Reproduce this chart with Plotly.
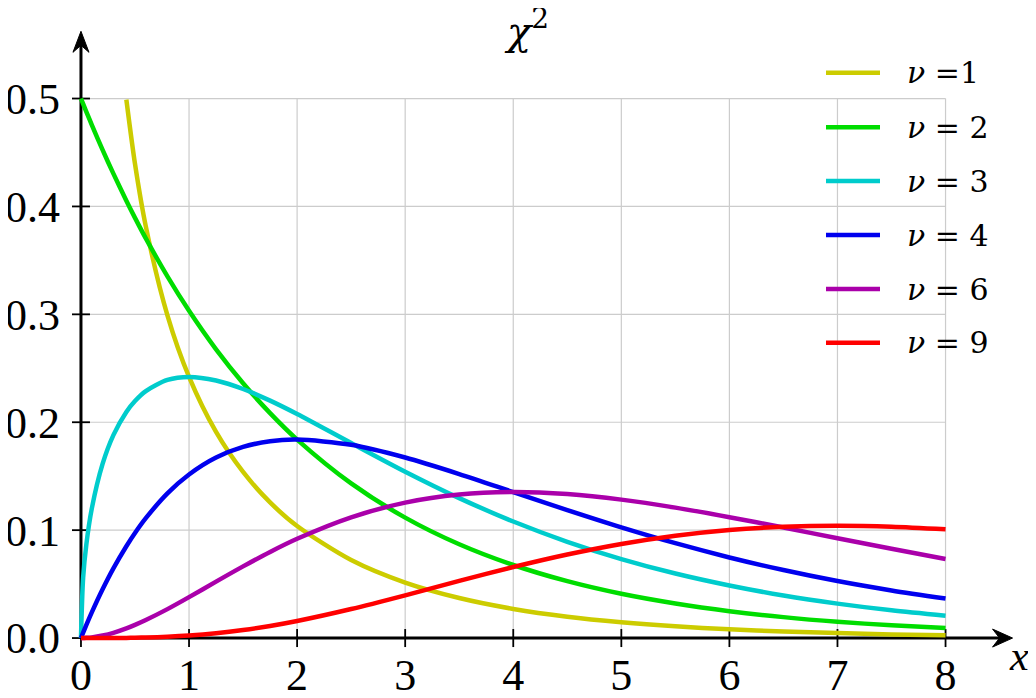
import plotly.graph_objects as go

# ---------------- data ----------------
x_vals = [0, 0.02, 0.05, 0.1, 0.2, 0.3, 0.42, 0.5, 0.6, 0.8, 1.0, 1.25, 1.5, 1.75,
          2.0, 2.5, 3.0, 3.5, 4.0, 4.5, 5.0, 5.5, 6.0, 6.5, 7.0, 7.5, 8.0]

nu1 = [None, None, None, None, None, None,
       0.499, 0.4394, 0.3815, 0.2990, 0.2420, 0.1910, 0.1539, 0.1257, 0.1038, 0.0723,
       0.0514, 0.0371, 0.0270, 0.0198, 0.0147, 0.0109, 0.0081, 0.0061, 0.0046, 0.0034, 0.0026]
nu2 = [0.5, 0.4950, 0.4877, 0.4756, 0.4524, 0.4304, 0.4053, 0.3894, 0.3704, 0.3352,
       0.3033, 0.2676, 0.2362, 0.2084, 0.1839, 0.1433, 0.1116, 0.0869, 0.0677, 0.0527,
       0.0410, 0.0320, 0.0249, 0.0194, 0.0151, 0.0118, 0.0092]
nu3 = [0, 0.0559, 0.0870, 0.1200, 0.1614, 0.1881, 0.2096, 0.2197, 0.2289, 0.2392,
       0.2420, 0.2387, 0.2308, 0.2200, 0.2076, 0.1807, 0.1542, 0.1297, 0.1080, 0.0892,
       0.0732, 0.0598, 0.0487, 0.0394, 0.0319, 0.0257, 0.0207]
nu4 = [0, 0.0050, 0.0122, 0.0238, 0.0452, 0.0646, 0.0851, 0.0974, 0.1111, 0.1341,
       0.1516, 0.1673, 0.1771, 0.1824, 0.1839, 0.1791, 0.1673, 0.1520, 0.1353, 0.1186,
       0.1026, 0.0879, 0.0747, 0.0630, 0.0528, 0.0441, 0.0366]
nu6 = [0, 0.0000, 0.0002, 0.0006, 0.0023, 0.0048, 0.0089, 0.0122, 0.0167, 0.0268,
       0.0379, 0.0523, 0.0664, 0.0798, 0.0920, 0.1119, 0.1255, 0.1330, 0.1353, 0.1334,
       0.1283, 0.1209, 0.1120, 0.1024, 0.0925, 0.0827, 0.0733]
nu9 = [0, 0, 0, 0, 0.0000, 0.0000, 0.0001, 0.0003, 0.0005, 0.0012,
       0.0023, 0.0044, 0.0074, 0.0112, 0.0158, 0.0269, 0.0396, 0.0530, 0.0658, 0.0774,
       0.0872, 0.0948, 0.1001, 0.1031, 0.1041, 0.1032, 0.1008]

series = [nu1, nu2, nu3, nu4, nu6, nu9]
legend_labels = ["ν =1", "ν = 2", "ν = 3", "ν = 4", "ν = 6", "ν = 9"]
colors = ["#cccc00", "#00dd00", "#00cccc", "#0000ee", "#aa00aa", "#ff0000"]

x_ticks = [0, 1, 2, 3, 4, 5, 6, 7, 8]
x_ticklabels = ["0", "1", "2", "3", "4", "5", "6", "7", "8"]
y_ticks = [0.0, 0.1, 0.2, 0.3, 0.4, 0.5]
y_ticklabels = ["0.0", "0.1", "0.2", "0.3", "0.4", "0.5"]

title_text = "<i>χ</i><sup>2</sup>"
x_label = "<i>x</i>"

# ---------------- layout geometry ----------------
# the page body has an 8px margin, so the figure is made 8px smaller and
# every window position is shifted by that offset
OFF = 8
W_FIG, H_FIG = 1036 - OFF, 698 - OFF
ML, MT = 60, 15
PW, PH = 964, 628
MR = W_FIG - ML - PW
MB = H_FIG - MT - PH
X_RANGE = [-0.12, 8.8]
Y_RANGE = [-0.012, 0.57]


def px_x(p):
    return (p - OFF - ML) / PW


def px_y(p):
    return (MT + PH - (p - OFF)) / PH


xu = (X_RANGE[1] - X_RANGE[0]) / PW   # data units per pixel (x)
yu = (Y_RANGE[1] - Y_RANGE[0]) / PH   # data units per pixel (y)

GRID = "#cccccc"
shapes = []

# grid lines (limited to the data frame)
for xv in x_ticks[1:]:
    shapes.append(dict(type="line", xref="x", yref="y", x0=xv, x1=xv,
                       y0=0, y1=y_ticks[-1], line=dict(color=GRID, width=1.2),
                       layer="between"))
for yv in y_ticks[1:]:
    shapes.append(dict(type="line", xref="x", yref="y", x0=0, x1=x_ticks[-1],
                       y0=yv, y1=yv, line=dict(color=GRID, width=1.2),
                       layer="between"))

# white box behind the legend
shapes.append(dict(type="rect", xref="paper", yref="paper",
                   x0=px_x(895), x1=1.0, y0=px_y(365), y1=1.0,
                   fillcolor="white", line=dict(width=0), layer="between"))

# axes with arrows
x_tip = x_ticks[-1] + 0.62
y_tip = 0.5623
shapes.append(dict(type="line", xref="x", yref="y", x0=0, x1=x_tip - 12 * xu,
                   y0=0, y1=0, line=dict(color="black", width=3), layer="between"))
shapes.append(dict(type="line", xref="x", yref="y", x0=0, x1=0,
                   y0=0, y1=y_tip - 12 * yu, line=dict(color="black", width=3),
                   layer="between"))
shapes.append(dict(type="path", xref="x", yref="y",
                   path=(f"M {x_tip},0 L {x_tip - 20 * xu},{9 * yu} "
                         f"L {x_tip - 13 * xu},0 L {x_tip - 20 * xu},{-9 * yu} Z"),
                   fillcolor="black", line=dict(color="black", width=1),
                   layer="between"))
shapes.append(dict(type="path", xref="x", yref="y",
                   path=(f"M 0,{y_tip} L {-8 * xu},{y_tip - 21 * yu} "
                         f"L 0,{y_tip - 14 * yu} L {8 * xu},{y_tip - 21 * yu} Z"),
                   fillcolor="black", line=dict(color="black", width=1),
                   layer="between"))

# tick marks crossing the axes
for xv in x_ticks:
    shapes.append(dict(type="line", xref="x", yref="y", x0=xv, x1=xv,
                       y0=-9 * yu, y1=9 * yu, line=dict(color="black", width=1.8),
                       layer="between"))
for yv in y_ticks:
    shapes.append(dict(type="line", xref="x", yref="y", x0=-9 * xu, x1=9 * xu,
                       y0=yv, y1=yv, line=dict(color="black", width=1.8),
                       layer="between"))

# legend (manual, to match the long key lines)
annotations = []
row_y = [72.7, 127.3, 181, 235, 289, 342.7]
for i, (lab, col) in enumerate(zip(legend_labels, colors)):
    shapes.append(dict(type="line", xref="paper", yref="paper",
                       x0=px_x(826), x1=px_x(880), y0=px_y(row_y[i]), y1=px_y(row_y[i]),
                       line=dict(color=col, width=4.5), layer="above"))
    annotations.append(dict(xref="paper", yref="paper", x=px_x(905), y=px_y(row_y[i]),
                            xanchor="left", yanchor="middle", showarrow=False,
                            text=lab.replace("ν", "<i>ν</i>"),
                            font=dict(family="DejaVu Serif", size=30, color="black")))

annotations.append(dict(xref="paper", yref="paper", x=px_x(526), y=px_y(28),
                        xanchor="center", yanchor="middle", showarrow=False,
                        text=title_text,
                        font=dict(family="DejaVu Serif", size=40, color="black")))
annotations.append(dict(xref="paper", yref="paper", x=px_x(1019), y=px_y(656),
                        xanchor="center", yanchor="middle", showarrow=False,
                        text=x_label,
                        font=dict(family="Liberation Serif", size=42, color="black")))

fig = go.Figure()
for ys, lab, col in zip(series, legend_labels, colors):
    fig.add_trace(go.Scatter(x=x_vals, y=ys, mode="lines", name=lab,
                             line=dict(color=col, width=4.5, shape="spline", smoothing=0.8),
                             showlegend=False, cliponaxis=False))

fig.update_layout(
    width=W_FIG, height=H_FIG,
    margin=dict(l=ML, r=MR, t=MT, b=MB, autoexpand=False),
    plot_bgcolor="white", paper_bgcolor="white",
    shapes=shapes, annotations=annotations, showlegend=False,
    xaxis=dict(range=X_RANGE, tickvals=x_ticks, ticktext=x_ticklabels,
               showgrid=False, zeroline=False, showline=False, ticks="",
               automargin=False,
               tickfont=dict(family="Liberation Serif", size=44, color="black"),
               ticklabelstandoff=-6),
    yaxis=dict(range=Y_RANGE, tickvals=y_ticks, ticktext=y_ticklabels,
               showgrid=False, zeroline=False, showline=False, ticks="",
               automargin=False, ticklabelstandoff=7,
               tickfont=dict(family="Liberation Serif", size=44, color="black")),
)

fig.write_html("out.html")
